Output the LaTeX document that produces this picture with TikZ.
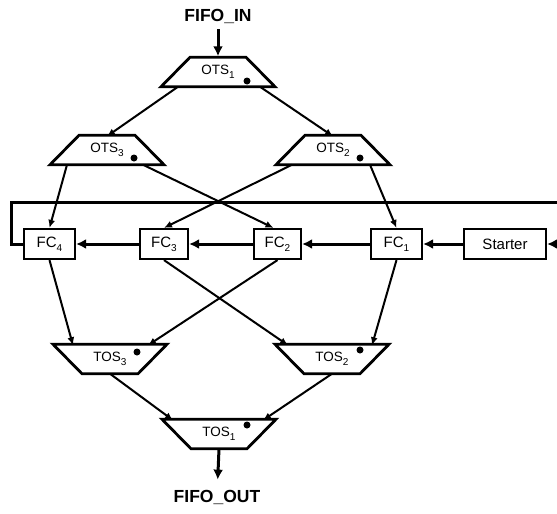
\documentclass[tikz,border=0pt]{standalone}
\usepackage{fontspec}
\setmainfont{Liberation Sans}
\usetikzlibrary{arrows.meta}
\newcommand{\lowidx}[1]{\raisebox{-0.28em}{\fontsize{10}{10}\selectfont #1}}

\begin{document}
\begin{tikzpicture}[x=1pt,y=-1pt,font=\fontsize{13.5}{15}\selectfont,
  ots/.style={minimum width=114pt,minimum height=29.5pt,inner sep=0pt,outer sep=0pt,
    append after command={\pgfextra{\draw[line width=2.8pt]
      ([xshift=29pt]\tikzlastnode.north west) -- ([xshift=-29pt]\tikzlastnode.north east)
      -- (\tikzlastnode.south east) -- (\tikzlastnode.south west) -- cycle;}}},
  tos/.style={minimum width=114pt,minimum height=29.5pt,inner sep=0pt,outer sep=0pt,
    append after command={\pgfextra{\draw[line width=2.8pt]
      (\tikzlastnode.north west) -- (\tikzlastnode.north east)
      -- ([xshift=-29pt]\tikzlastnode.south east) -- ([xshift=29pt]\tikzlastnode.south west) -- cycle;}}},
  fc/.style={draw,line width=2.2pt,minimum height=30pt,inner sep=0pt,
    font=\fontsize{15}{17}\selectfont},
  io/.style={font=\fontsize{17.5}{19}\selectfont\bfseries,inner sep=2pt},
  link/.style={line width=2pt,-{Latex[length=8pt,width=7pt]}},
  chain/.style={line width=3pt,-{Latex[length=10pt,width=10pt]}}]
  \useasboundingbox (0,0) rectangle (557,514);
  \clip (0,0) rectangle (557,514);
  % input side
  \node[io] (fifoin) at (218,16) {FIFO\_IN};
  \node[ots] (ots1) at (218,72) {OTS\lowidx{1}};
  \node[ots] (ots3) at (107,150) {OTS\lowidx{3}};
  \node[ots] (ots2) at (333,150) {OTS\lowidx{2}};
  % ring of FCs
  \node[fc,minimum width=51pt] (fc4) at (49.5,244) {FC\lowidx{4}};
  \node[fc,minimum width=48pt] (fc3) at (164,244) {FC\lowidx{3}};
  \node[fc,minimum width=47pt] (fc2) at (277.5,244) {FC\lowidx{2}};
  \node[fc,minimum width=51pt] (fc1) at (396.5,244) {FC\lowidx{1}};
  \node[fc,minimum width=82pt] (starter) at (505,244) {Starter};
  % output side
  \node[tos] (tos3) at (110,359) {TOS\lowidx{3}};
  \node[tos] (tos2) at (332,359) {TOS\lowidx{2}};
  \node[tos] (tos1) at (219,434) {TOS\lowidx{1}};
  \node[io] (fifoout) at (217,497) {FIFO\_OUT};
  % dots
  \fill ([shift={(29,9)}]ots1.center) circle (3.5pt);
  \fill ([shift={(27,8)}]ots3.center) circle (3.5pt);
  \fill ([shift={(27,8)}]ots2.center) circle (3.5pt);
  \fill ([shift={(27,-7)}]tos3.center) circle (3.5pt);
  \fill ([shift={(28,-9)}]tos2.center) circle (3.5pt);
  \fill ([shift={(28,-9)}]tos1.center) circle (3.5pt);
  % connectors
  \draw[chain,shorten <=4pt,shorten >=1pt] (fifoin) -- (ots1.north);
  \draw[link] ([xshift=-40pt]ots1.south) -- ([yshift=-1pt]ots3.north);
  \draw[link] ([xshift=42pt]ots1.south) -- ([yshift=-1pt]ots2.north);
  \draw[link] ([xshift=-40pt]ots3.south) -- (fc4.north);
  \draw[link] ([xshift=36pt]ots3.south) -- ([xshift=-4pt]fc2.north);
  \draw[link] ([xshift=-41pt]ots2.south) -- (fc3.north);
  \draw[link] ([xshift=37pt]ots2.south) -- (fc1.north);
  \draw[chain] (starter) -- (fc1);
  \draw[chain] (fc1) -- (fc2);
  \draw[chain] (fc2) -- (fc3);
  \draw[chain] (fc3) -- (fc4);
  \draw[chain] (fc4.west) -- ++(-11,0) |- (575,202) |- (starter.east);
  \draw[link] (fc4.south) -- ([xshift=-37pt,yshift=-1pt]tos3.north);
  \draw[link] (fc2.south) -- ([xshift=38pt,yshift=-1pt]tos3.north);
  \draw[link] (fc3.south) -- ([xshift=-44pt,yshift=-1pt]tos2.north);
  \draw[link] (fc1.south) -- ([xshift=40pt,yshift=-1pt]tos2.north);
  \draw[link] (tos3.south) -- ([xshift=-46pt,yshift=-1pt]tos1.north);
  \draw[link] (tos2.south) -- ([xshift=44pt,yshift=-1pt]tos1.north);
  \draw[chain,shorten >=8pt] (tos1.south) -- (fifoout);
\end{tikzpicture}
\end{document}
